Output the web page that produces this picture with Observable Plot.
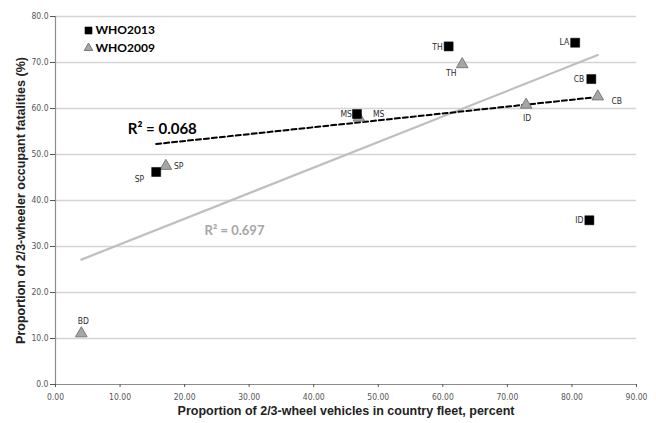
<!DOCTYPE html>
<html>
<head>
<meta charset="utf-8">
<script src="https://cdn.jsdelivr.net/npm/d3@7"></script>
<script src="https://cdn.jsdelivr.net/npm/@observablehq/plot@0.6"></script>
<style>
  html, body { margin: 0; padding: 0; background: #fff; }
  #chart { width: 656px; height: 423px; }
</style>
</head>
<body>
<div id="chart"></div>
<script>
// WHO 2013 survey: share of 2/3-wheelers in fleet vs. share of fatalities
const countries2013 = ["SP", "MS", "TH", "LA", "CB", "ID"];
const fleet2013     = [15.6, 46.7, 60.9, 80.5, 83.0, 82.7];
const fatal2013     = [46.2, 58.8, 73.5, 74.3, 66.4, 35.7];

// WHO 2009 survey
const countries2009 = ["BD", "SP", "MS", "TH", "ID", "CB"];
const fleet2009     = [4.0, 17.1, 47.0, 63.0, 72.9, 84.0];
const fatal2009     = [11.1, 47.5, 58.0, 69.6, 60.8, 62.6];

const seriesNames = ["WHO2013", "WHO2009"];
const rSquaredLabels = ["R\u00b2 = 0.068", "R\u00b2 = 0.697"];

const xTicks = [0, 10, 20, 30, 40, 50, 60, 70, 80, 90];
const yTicks = [0, 10, 20, 30, 40, 50, 60, 70, 80];

const xTitle = "Proportion of 2/3-wheel vehicles in country fleet, percent";
const yTitle = "Proportion of 2/3-wheeler occupant fatalities (%)";

// Build row tables for the marks
const rows2013 = countries2013.map((c, i) => ({country: c, fleet: fleet2013[i], fatal: fatal2013[i]}));
const rows2009 = countries2009.map((c, i) => ({country: c, fleet: fleet2009[i], fatal: fatal2009[i]}));

// Label placement (pixel offsets from each marker)
const labelPlacement = {
  WHO2013: {
    SP: {dx: -12, dy: 7, anchor: "end"},
    MS: {dx: -5, dy: 0, anchor: "end"},
    TH: {dx: -6, dy: 1, anchor: "end"},
    LA: {dx: -6, dy: 0, anchor: "end"},
    CB: {dx: -7, dy: 0, anchor: "end"},
    ID: {dx: -6, dy: 0, anchor: "end"}
  },
  WHO2009: {
    BD: {dx: 2, dy: -12, anchor: "middle"},
    SP: {dx: 8, dy: 0, anchor: "start"},
    MS: {dx: 14, dy: -3, anchor: "start"},
    TH: {dx: -11, dy: 9, anchor: "middle"},
    ID: {dx: 1, dy: 13, anchor: "middle"},
    CB: {dx: 19, dy: 5, anchor: "middle"}
  }
};

// Where the R² annotations sit, in data units
const rSquaredAnchor = [
  {x: 11.2, y: 55.6, fill: "#000", size: 15},
  {x: 23.1, y: 33.5, fill: "#a6a6a6", size: 13}
];

const tickFont = "'Liberation Sans Narrow', 'DejaVu Sans Condensed', sans-serif";
const labelFont = "'Liberation Sans Narrow', 'DejaVu Sans Condensed', sans-serif";
const calloutFont = "Lato, 'Open Sans', sans-serif";
const titleFont = "'Liberation Sans', Arial, sans-serif";

const squareStyle = {symbol: "square", r: 5.1, fill: "#000", stroke: "#000", strokeWidth: 0.5};
const triangleStyle = {symbol: "triangle", r: 4.3, fill: "#a6a6a6", stroke: "#7a7a7a", strokeWidth: 1};

function pointLabels(rows, series) {
  return rows.map(r => {
    const p = labelPlacement[series][r.country];
    return Plot.text([r], {
      x: "fleet", y: "fatal", text: "country",
      dx: p.dx, dy: p.dy, textAnchor: p.anchor,
      fill: "#2b2b2b", fontSize: 8.5, fontFamily: labelFont
    });
  });
}

const legendMarks = seriesNames.flatMap((name, i) => [
  Plot.dot([name], {
    frameAnchor: "top-left", dx: 33, dy: 14 + i * 17.5,
    ...(i === 0 ? {...squareStyle, r: 4} : {...triangleStyle, r: 3.2})
  }),
  Plot.text([name], {
    frameAnchor: "top-left", dx: 40, dy: 14 + i * 17.5,
    text: d => d, textAnchor: "start", lineAnchor: "middle",
    fontFamily: calloutFont, fontWeight: "bold", fontSize: 12, fill: "#000"
  })
]);

const chart = Plot.plot({
  width: 656,
  height: 423,
  marginLeft: 55,
  marginRight: 20,
  marginTop: 16,
  marginBottom: 39,
  style: {background: "#fff", overflow: "visible"},
  x: {domain: [0, 90]},
  y: {domain: [0, 80]},
  marks: [
    Plot.gridY(yTicks.filter(d => d > 0), {stroke: "#d4d4d4", strokeOpacity: 1, strokeWidth: 1.3}),
    Plot.ruleY([0], {stroke: "#8c8c8c", strokeWidth: 1.2}),
    Plot.ruleX([0], {stroke: "#8c8c8c", strokeWidth: 1.2}),
    Plot.axisX(xTicks, {
      tickFormat: d3.format(".2f"), tickSize: 3, tickPadding: 6,
      color: "#555", fontSize: 8.5, fontFamily: tickFont, label: null
    }),
    Plot.axisY(yTicks, {
      tickFormat: d3.format(".1f"), tickSize: 5, tickPadding: 2,
      color: "#555", fontSize: 8.5, fontFamily: tickFont, label: null
    }),
    Plot.text([xTitle], {
      frameAnchor: "bottom", dy: 26, text: d => d,
      textAnchor: "middle", lineAnchor: "middle",
      fontFamily: titleFont, fontWeight: "bold", fontSize: 12.5, fill: "#222"
    }),
    Plot.text([yTitle], {
      frameAnchor: "left", dx: -35, rotate: -90, text: d => d,
      textAnchor: "middle", lineAnchor: "middle",
      fontFamily: titleFont, fontWeight: "bold", fontSize: 12.5, fill: "#222"
    }),
    // Least-squares trend lines for each survey
    Plot.linearRegressionY(rows2009, {x: "fleet", y: "fatal", ci: 0, stroke: "#bfbfbf", strokeWidth: 2.2}),
    Plot.linearRegressionY(rows2013, {x: "fleet", y: "fatal", ci: 0, stroke: "#000", strokeWidth: 2, strokeDasharray: "5,3"}),
    // Markers
    Plot.dot(rows2009, {x: "fleet", y: "fatal", ...triangleStyle}),
    Plot.dot(rows2013, {x: "fleet", y: "fatal", ...squareStyle}),
    ...pointLabels(rows2013, "WHO2013"),
    ...pointLabels(rows2009, "WHO2009"),
    // R² annotations
    ...rSquaredLabels.map((t, i) => Plot.text([t], {
      x: () => rSquaredAnchor[i].x, y: () => rSquaredAnchor[i].y, text: d => d,
      textAnchor: "start", fontFamily: calloutFont, fontWeight: "bold",
      fontSize: rSquaredAnchor[i].size, fill: rSquaredAnchor[i].fill
    })),
    ...legendMarks
  ]
});

document.getElementById("chart").appendChild(chart);
</script>
</body>
</html>
